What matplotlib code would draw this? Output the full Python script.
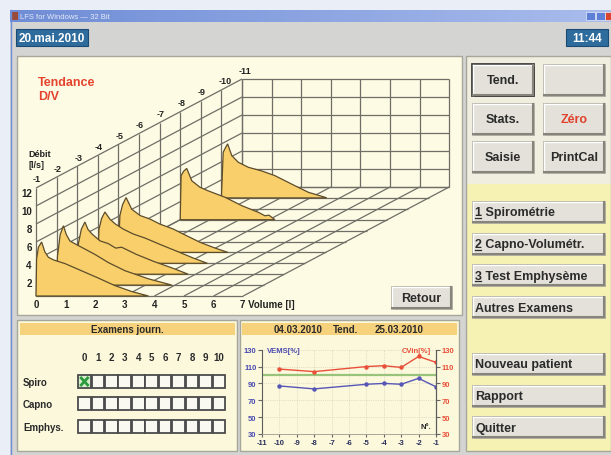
import numpy as np
import matplotlib
matplotlib.use("Agg")
import matplotlib.pyplot as plt
from matplotlib.patches import Rectangle

plt.rcParams["font.family"] = ["Liberation Sans", "DejaVu Sans"]
plt.rcParams["font.weight"] = "bold"
plt.rcParams["axes.unicode_minus"] = False

# ---------------- data ----------------
volume_ticks = [0, 1, 2, 3, 4, 5, 6, 7]
flow_ticks = [2, 4, 6, 8, 10, 12]
depth_ticks = [-1, -2, -3, -4, -5, -6, -7, -8, -9, -10, -11]

# flow-volume curves (volume [l], flow [l/s]) per trend index
vol_m10 = [0, 0.06, 0.14, 0.21, 0.35, 0.57, 0.91, 1.36, 1.81, 2.37, 2.94, 3.39, 3.56]
flow_m10 = [0, 5.07, 5.6, 6.0, 4.7, 3.96, 3.4, 3.0, 2.47, 1.54, 0.62, 0.18, 0.0]
vol_m8 = [0, 0.03, 0.12, 0.22, 0.39, 0.67, 0.95, 1.51, 2.08, 2.64, 2.86, 3.0, 3.2]
flow_m8 = [0, 4.9, 5.4, 5.7, 4.33, 3.6, 3.2, 2.5, 1.56, 0.82, 0.44, 0.5, 0.0]
vol_m5 = [0, 0.05, 0.14, 0.26, 0.45, 0.73, 1.07, 1.40, 1.85, 2.30, 2.76, 3.25, 3.70]
flow_m5 = [0, 4.1, 5.3, 6.1, 4.8, 4.1, 3.7, 3.15, 2.6, 1.86, 1.12, 0.5, 0.0]
vol_m4 = [0, 0.04, 0.13, 0.24, 0.41, 0.58, 0.86, 1.20, 1.60, 2.10, 2.70, 3.25, 3.70]
flow_m4 = [0, 3.8, 5.0, 5.7, 4.9, 4.4, 3.8, 3.25, 2.8, 2.1, 1.3, 0.55, 0.0]
vol_m3 = [0, 0.04, 0.14, 0.26, 0.36, 0.49, 0.77, 1.05, 1.30, 1.50, 2.00, 2.60, 3.20, 3.75]
flow_m3 = [0, 3.4, 5.0, 5.8, 5.0, 4.5, 3.7, 3.4, 2.9, 3.0, 2.2, 1.4, 0.7, 0.0]
vol_m2 = [0, 0.03, 0.12, 0.23, 0.33, 0.45, 0.73, 0.96, 1.30, 1.75, 2.31, 3.10, 3.89]
flow_m2 = [0, 3.2, 5.6, 6.6, 5.6, 4.9, 4.4, 4.0, 3.4, 2.5, 1.6, 0.7, 0.0]
vol_m1 = [0, 0.02, 0.08, 0.19, 0.30, 0.42, 0.60, 0.98, 1.54, 2.10, 2.67, 3.23, 3.80]
flow_m1 = [0, 4.1, 5.4, 6.0, 4.9, 4.3, 4.0, 3.6, 2.8, 2.0, 1.15, 0.5, 0.0]

curve_depths = [-10, -8, -5, -4, -3, -2, -1]
curve_vols = [vol_m10, vol_m8, vol_m5, vol_m4, vol_m3, vol_m2, vol_m1]
curve_flows = [flow_m10, flow_m8, flow_m5, flow_m4, flow_m3, flow_m2, flow_m1]

# trend (small chart)
trend_x = [-10, -8, -5, -4, -3, -2, -1]
vems = [87, 83.5, 89, 90, 89, 96, 86]
cvin = [107, 104, 110, 111, 109, 122, 115]
trend_xticks = [-11, -10, -9, -8, -7, -6, -5, -4, -3, -2, -1]
trend_yticks = [30, 50, 70, 90, 110, 130]
ref_level = 100

exam_rows = ["Spiro", "Capno", "Emphys."]
exam_slots = [0, 1, 2, 3, 4, 5, 6, 7, 8, 9, 10]
exam_done = [("Spiro", 0)]

top_buttons = ["Tend.", "", "Stats.", "Zéro", "Saisie", "PrintCal"]
menu_buttons = ["1 Spirométrie", "2 Capno-Volumétr.", "3 Test Emphysème", "Autres Examens"]
action_buttons = ["Nouveau patient", "Rapport", "Quitter"]

# ---------------- figure ----------------
W, H = 611, 456
fig = plt.figure(figsize=(W / 100, H / 100), dpi=100)
fig.patch.set_facecolor("#e9eef7")
bg = fig.add_axes([0, 0, 1, 1])
bg.axis("off")


def rect(x0, y0, x1, y1, **kw):
    bg.add_patch(Rectangle((x0, y0), x1 - x0, y1 - y0, **kw))


def button(x0, y0, x1, y1, label, color="#2b2b2b", align="center", pressed=False, underline=False):
    rect(x0, y0, x1, y1, fc="#e3e1d9", ec="#a8a69c", lw=0.6)
    bg.plot([x0 + 1, x1 - 1], [y0 + 1, y0 + 1], color="white", lw=1)
    bg.plot([x0 + 1, x0 + 1], [y0 + 1, y1 - 1], color="white", lw=1)
    bg.plot([x0 + 1, x1 - 1], [y1 - 1, y1 - 1], color="#86847b", lw=1.5)
    bg.plot([x1 - 1, x1 - 1], [y0 + 1, y1 - 1], color="#86847b", lw=1.5)
    if pressed:
        rect(x0, y0, x1, y1, fc="none", ec="#3c3c3c", lw=1.3)
    yc = (y0 + y1) / 2
    if align == "center":
        bg.text((x0 + x1) / 2, yc + 0.5, label, ha="center", va="center", fontsize=9, color=color)
    else:
        bg.text(x0 + 3, yc + 0.5, label, ha="left", va="center", fontsize=9, color=color)
        if underline:
            bg.plot([x0 + 3, x0 + 9], [yc + 6, yc + 6], color=color, lw=0.9)


# window chrome
grad = np.linspace(0, 1, 256)[None, :]
bg.imshow(grad, extent=(10, W, 23, 11), aspect="auto",
          cmap=matplotlib.colors.LinearSegmentedColormap.from_list("tb", ["#6f8dd6", "#a9bcec"]))
bg.text(20, 17.3, "LFS for Windows — 32 Bit", fontsize=5.5, color="#e4eaf8", weight="normal", va="center")
rect(12, 13, 18, 21, fc="#9a4a3a", ec="none")
rect(586, 13, 595, 21, fc="#5d7fd6", ec="#e8eef8", lw=0.5)
rect(596, 13, 605, 21, fc="#5d7fd6", ec="#e8eef8", lw=0.5)
rect(605, 13, 611, 21, fc="#d9452f", ec="#e8eef8", lw=0.5)
rect(10, 23, W, H, fc="#d4d5d3", ec="none")
bg.plot([10.5, 10.5], [11, H], color="#6f8dd6", lw=1)

# date / time boxes
rect(16, 30, 88, 47, fc="#2d6c9c", ec="#1d4a72", lw=0.8)
bg.text(52, 38.8, "20.mai.2010", ha="center", va="center", fontsize=8.5, color="white")
rect(566, 30, 608, 47, fc="#2d6c9c", ec="#1d4a72", lw=0.8)
bg.text(587, 38.8, "11:44", ha="center", va="center", fontsize=8.5, color="white")

# panels
rect(17, 57, 462, 316, fc="#fdfbe4", ec="#a7a69a", lw=1)
rect(466, 57, 611, 185, fc="#efeedf", ec="none")
rect(466, 185, 611, 452, fc="#f6f2b4", ec="none")
rect(466, 57, 611, 452, fc="none", ec="#a7a69a", lw=1)
rect(17, 321, 237, 452, fc="#fbf8dc", ec="#a7a69a", lw=1)
rect(20, 324, 235, 336, fc="#f7d27c", ec="none")
rect(240, 321, 459, 452, fc="#fbf8dc", ec="#a7a69a", lw=1)
rect(242, 324, 457, 336, fc="#f7d27c", ec="none")
bg.text(127, 330.5, "Examens journ.", ha="center", va="center", fontsize=7, color="#2a2a2a")
bg.text(298, 330.5, "04.03.2010", ha="center", va="center", fontsize=7, color="#2a2a2a")
bg.text(346, 330.5, "Tend.", ha="center", va="center", fontsize=7, color="#2a2a2a")
bg.text(399, 330.5, "25.03.2010", ha="center", va="center", fontsize=7, color="#2a2a2a")

# right side buttons
for i, lab in enumerate(top_buttons):
    r, c = divmod(i, 2)
    x0 = 472 + c * 71
    y0 = 65 + r * 38.5
    button(x0, y0, x0 + 62, y0 + 32, lab,
           color="#e0402c" if lab == "Zéro" else "#2b2b2b", pressed=(lab == "Tend."))
for i, lab in enumerate(menu_buttons):
    y0 = 202 + i * 31.7
    button(472, y0, 605, y0 + 22, lab, align="left", underline=lab[0].isdigit())
for i, lab in enumerate(action_buttons):
    y0 = 354 + i * 31.6
    button(472, y0, 605, y0 + 22, lab, align="left")
button(391, 287, 452, 310, "Retour")

# daily exams grid
gx0, gw = 77.7, 13.45
row_tops = [376, 398.5, 421]
for j, s in enumerate(exam_slots):
    bg.text(gx0 + gw * (j + 0.5), 358.5, str(s), ha="center", va="center", fontsize=7, color="#2a2a2a")
for i, row in enumerate(exam_rows):
    yt = row_tops[i]
    bg.text(23, yt + 6.8, row, ha="left", va="center", fontsize=7, color="#2a2a2a")
    for j, s in enumerate(exam_slots):
        done = (row, s) in exam_done
        x0 = gx0 + gw * j
        rect(x0 + 0.4, yt, x0 + gw - 0.4, yt + 13, fc="#d6edcf" if done else "#f9f9f2", ec="#4b4b4b", lw=1.3)
        if done:
            bg.plot([x0 + 3.5, x0 + gw - 3.5], [yt + 3, yt + 10], color="#2d9a3d", lw=2)
            bg.plot([x0 + 3.5, x0 + gw - 3.5], [yt + 10, yt + 3], color="#2d9a3d", lw=2)

bg.set_xlim(0, W)
bg.set_ylim(H, 0)

# ---------------- oblique flow/volume waterfall ----------------
ax3 = fig.add_axes([17 / W, 1 - 316 / H, 445 / W, 259 / H])
ax3.set_xlim(-19 / 29.6, 426 / 29.6)
ax3.set_ylim(-19 / 9, 240 / 9)
ax3.axis("off")
ax3.patch.set_alpha(0)

DV, DF = 0.696, 1.211
kmax = len(depth_ticks) - 1
fmax = flow_ticks[-1]
vmax = volume_ticks[-1]


def oblique(v, f, k):
    return np.asarray(v) + k * DV, np.asarray(f) + k * DF


gkw = dict(color="#6f6e66", lw=0.9, zorder=1, solid_capstyle="butt")


def seg(p, q):
    ax3.plot([p[0], q[0]], [p[1], q[1]], **gkw)


levels = [0] + flow_ticks
for k, d in enumerate(depth_ticks):
    seg(oblique(0, 0, k), oblique(0, fmax, k))
    seg(oblique(0, 0, k), oblique(vmax, 0, k))
    tx, ty = oblique(-0.1, fmax + 1.0, k)
    ax3.text(tx, ty, str(d), ha="left", va="center", fontsize=6.5, color="#222222")
for f in levels:
    seg(oblique(0, f, 0), oblique(0, f, kmax))
    seg(oblique(0, f, kmax), oblique(vmax, f, kmax))
for v in volume_ticks:
    seg(oblique(v, 0, kmax), oblique(v, fmax, kmax))
    seg(oblique(v, 0, 0), oblique(v, 0, kmax))

for i, (d, vv, ff) in enumerate(zip(curve_depths, curve_vols, curve_flows)):
    k = -d - 1
    px, py = oblique(vv, ff, k)
    ax3.fill(px, py, facecolor="#f8cf6b", edgecolor="#5d4d2b", lw=0.9, zorder=3 + i)

for f in flow_ticks:
    ax3.text(-0.14, f, str(f), ha="right", va="top", fontsize=7, color="#222222")
for v in volume_ticks:
    if v == vmax:
        ax3.text(v - 0.1, -0.35, f"{v} Volume [l]", ha="left", va="top", fontsize=7, color="#222222")
    else:
        ax3.text(v, -0.35, str(v), ha="center", va="top", fontsize=7, color="#222222")
ax3.text(-0.27, 15.8, "Débit", ha="left", va="center", fontsize=6.5, color="#222222")
ax3.text(-0.27, 14.6, "[l/s]", ha="left", va="center", fontsize=6.5, color="#222222")
ax3.text(0.07, 23.8, "Tendance", ha="left", va="center", fontsize=9, color="#e4432e")
ax3.text(0.07, 22.2, "D/V", ha="left", va="center", fontsize=9, color="#e4432e")

# ---------------- trend chart ----------------
axt = fig.add_axes([262 / W, 1 - 435 / H, 174 / W, 84.3 / H])
axt.patch.set_alpha(0)
axt.axhline(ref_level, color="#97c47a", lw=1.6, zorder=2)
axt.plot(trend_x, cvin, color="#e8503a", lw=1, marker="o", ms=2.2, zorder=3)
axt.plot(trend_x, vems, color="#5656b6", lw=1, marker="o", ms=2.2, zorder=3)
axt.set_xlim(trend_xticks[0], trend_xticks[-1])
axt.set_ylim(trend_yticks[0], trend_yticks[-1])
axt.set_xticks(trend_xticks)
axt.set_yticks(trend_yticks)
axt.grid(True, color="#c9c7b2", lw=0.5, ls=":")
axt.tick_params(axis="x", labelsize=5.5, labelcolor="#2a2f5a", length=2, pad=1.5, color="#666666")
axt.tick_params(axis="y", labelsize=5.5, labelcolor="#4a4ab0", length=3, pad=1, color="#666666")
axt.spines["top"].set_visible(False)
for sp in ["left", "right"]:
    axt.spines[sp].set_color("#5c5c5c")
axt.spines["bottom"].set_color("#9a9a8e")
axt.spines["bottom"].set_linewidth(0.6)
axr = axt.twinx()
axr.set_ylim(trend_yticks[0], trend_yticks[-1])
axr.set_yticks(trend_yticks)
axr.tick_params(axis="y", labelsize=5.5, labelcolor="#e8503a", length=3, pad=1, color="#666666")
for sp in ["top", "bottom", "left"]:
    axr.spines[sp].set_visible(False)
axr.spines["right"].set_color("#5c5c5c")
axt.text(0.03, 0.99, "VEMS[%]", transform=axt.transAxes, ha="left", va="center", fontsize=5.5, color="#4a4ab0")
axt.text(0.97, 0.99, "CVin[%]", transform=axt.transAxes, ha="right", va="center", fontsize=5.5, color="#e8503a")
axt.text(0.97, 0.09, "N°.", transform=axt.transAxes, ha="right", va="center", fontsize=5.5, color="#222222")

fig.savefig("out.png", dpi=100)
